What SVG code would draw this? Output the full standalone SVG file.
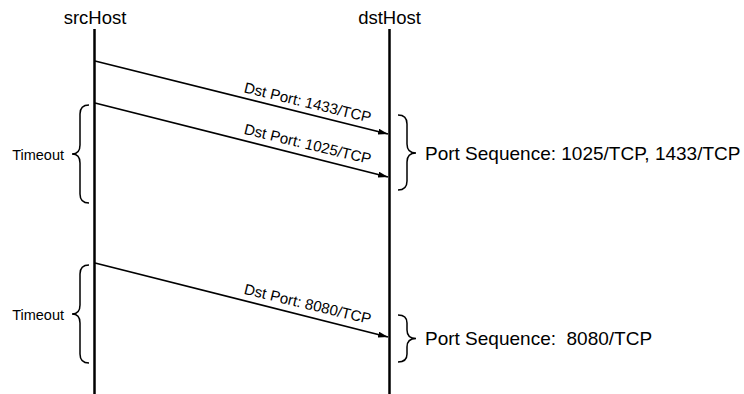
<svg xmlns="http://www.w3.org/2000/svg" width="744" height="394" viewBox="0 0 744 394">
<defs>
<style>
text{font-family:"Liberation Sans",Arial,sans-serif;fill:#000}
.host{font-size:18.5px;text-anchor:middle}
.lbl{font-size:15px;text-anchor:middle}
.side{font-size:14.5px;text-anchor:end}
.seq{font-size:19px;white-space:pre}
.life{stroke:#000;stroke-width:2.5;fill:none}
.msg{stroke:#000;stroke-width:1.8;fill:none;marker-end:url(#ah)}
.brace{stroke:#000;stroke-width:1.5;fill:none}
</style>
<marker id="ah" viewBox="0 0 10 6" refX="10" refY="3" markerWidth="10" markerHeight="6" markerUnits="userSpaceOnUse" orient="auto">
<path d="M0,0 L10,3 L0,6 z" fill="#000"/>
</marker>
</defs>
<rect width="744" height="394" fill="#fff"/>
<g id="srcHost">
<text class="host" x="95" y="24">srcHost</text>
<line class="life" x1="94.5" y1="29" x2="94.5" y2="394"/>
</g>
<g id="dstHost">
<text class="host" x="389.5" y="24">dstHost</text>
<line class="life" x1="389.5" y1="29" x2="389.5" y2="394"/>
</g>
<g id="connectors">
<line class="msg" x1="95" y1="61" x2="388" y2="134"/>
<line class="msg" x1="95" y1="103" x2="388" y2="177"/>
<line class="msg" x1="95" y1="263" x2="388" y2="337"/>
<text class="lbl" transform="translate(306.5,107.5) rotate(13.5)">Dst Port: 1433/TCP</text>
<text class="lbl" transform="translate(306.5,149) rotate(13.5)">Dst Port: 1025/TCP</text>
<text class="lbl" transform="translate(306.5,309) rotate(13.5)">Dst Port: 8080/TCP</text>
</g>
<g id="timeout1">
<path class="brace" d="M89,105 Q80,105 80,114 L80,145 Q80,154 72,154 Q80,154 80,163 L80,194 Q80,203 89,203"/>
<text class="side" x="64" y="160">Timeout</text>
</g>
<g id="timeout2">
<path class="brace" d="M89,265 Q80,265 80,274 L80,305 Q80,314 72,314 Q80,314 80,323 L80,354 Q80,363 89,363"/>
<text class="side" x="64" y="320">Timeout</text>
</g>
<g id="seq1">
<path class="brace" d="M398,115 Q407,115 407,124 L407,144 Q407,153 416,153 Q407,153 407,162 L407,181 Q407,190 398,190"/>
<text class="seq" x="425" y="160">Port Sequence: 1025/TCP, 1433/TCP</text>
</g>
<g id="seq2">
<path class="brace" d="M398,315 Q407,315 407,323 L407,330 Q407,338.5 416,338.5 Q407,338.5 407,347 L407,354 Q407,362 398,362"/>
<text class="seq" x="425" y="345" xml:space="preserve">Port Sequence:  8080/TCP</text>
</g>
</svg>
